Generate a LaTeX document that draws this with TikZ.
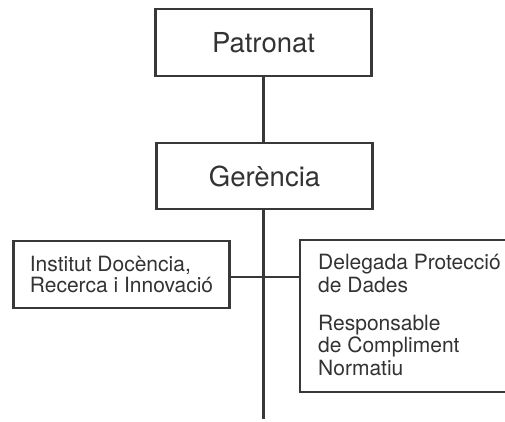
\documentclass[tikz,border=0pt]{standalone}
\usepackage{fontspec}
\setmainfont{TeX Gyre Heros}
\definecolor{ln}{HTML}{383838}
\definecolor{tx}{HTML}{333333}
\begin{document}
\begin{tikzpicture}[x=1pt,y=-1pt,
  box/.style={draw=ln,line width=2.2pt,fill=white,inner sep=0pt,text=tx},
  big/.style={font=\fontsize{27.5}{30}\selectfont},
  small/.style={font=\fontsize{21}{20.5}\selectfont},
  smallb/.style={font=\fontsize{21}{22.5}\selectfont},
  conn/.style={draw=ln,line width=2.2pt}]
\useasboundingbox (0,0) rectangle (505,421);
\clip (0,0) rectangle (505,421);
\fill[white] (0,0) rectangle (505,421);
\node[box,big,minimum width=216pt,minimum height=67pt] (pat) at (263.5,42.5) {Patronat};
\node[box,big,minimum width=216pt,minimum height=66pt] (ger) at (264.5,176) {Gerència};
\node[box,small,align=left,minimum width=216pt,minimum height=67pt] (inst) at (121.5,274.5) {Institut Docència,\\Recerca i Innovació};
\node[box,minimum width=230pt,minimum height=152pt] (dpd) at (415,316) {};
\node[smallb,text=tx,anchor=north west,inner sep=0pt,align=left] (dpdt) at (318,254) {Delegada Protecció\\de Dades\\[15.5pt]Responsable\\de Compliment\\Normatiu};
\coordinate (bot) at (263.5,419);
\coordinate (j) at (263.5,277);
\draw[conn] (pat.south) -- (pat.south |- ger.north);
\draw[conn] (pat.south |- ger.south) -- (bot);
\draw[conn] (inst.east |- j) -- (dpd.west |- j);
\end{tikzpicture}
\end{document}
